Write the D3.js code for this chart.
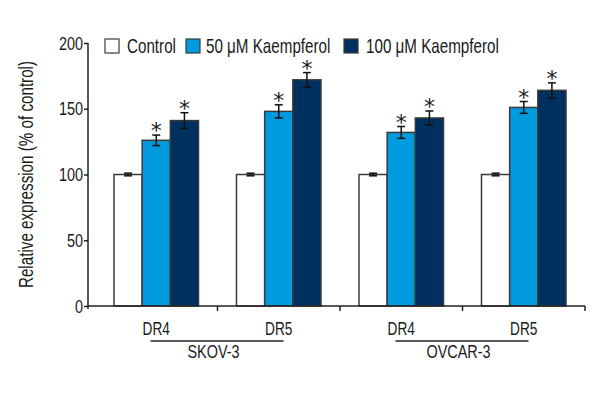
<!DOCTYPE html>
<html>
<head>
<meta charset="utf-8">
<script src="https://cdn.jsdelivr.net/npm/d3@7"></script>
<style>
  body { margin: 0; background: #fff; }
  svg text { font-family: "Liberation Sans", Arial, sans-serif; fill: #1a1a1a; }
</style>
</head>
<body>
<div id="chart"></div>
<script>
// data
var groups = ["SKOV-3 DR4", "SKOV-3 DR5", "OVCAR-3 DR4", "OVCAR-3 DR5"];
var groupLabels = ["DR4", "DR5", "DR4", "DR5"];
var cellLines = ["SKOV-3", "OVCAR-3"];
var series = ["Control", "50 \u03bcM Kaempferol", "100 \u03bcM Kaempferol"];
var controlVals = [100, 100, 100, 100];
var k50Vals = [126, 148, 132, 151];
var k100Vals = [141, 172, 143, 164];
var controlErr = [1, 1, 1, 1];
var k50Err = [4, 5, 4.5, 4.5];
var k100Err = [6, 5.5, 5.3, 5.7];
var significant = [false, true, true];
var yTicks = [0, 50, 100, 150, 200];

var colors = ["#ffffff", "#009bde", "#003060"];
var squeeze = 0.76; // condensed look of the original font

var width = 600, height = 400;

var svg = d3.select("#chart").append("svg")
	.attr("width", width)
	.attr("height", height);

// narrow text: translate, optional rotate, then squeeze along the text
function narrowText(parent, x, y, str, size, anchor, rot) {
	var t = "translate(" + x + "," + y + ")";
	if (rot) t += " rotate(" + rot + ")";
	t += " scale(" + squeeze + ",1)";
	return parent.append("text")
		.attr("transform", t)
		.attr("text-anchor", anchor || "start")
		.style("font-size", size + "px")
		.text(str);
}

var x0 = d3.scaleBand()
	.domain(groups)
	.range([95, 585])
	.padding(0);

var x1 = d3.scaleBand()
	.domain(series)
	.range([0, x0.bandwidth() * 0.69]);

var y = d3.scaleLinear()
	.domain([0, 200])
	.range([306, 43]);

var axisLeftX = 88;

// table built from the arrays
var table = groups.map(function(g, i) {
	return {
		group: g,
		bars: [
			{ s: series[0], v: controlVals[i], e: controlErr[i], c: colors[0], sig: significant[0] },
			{ s: series[1], v: k50Vals[i], e: k50Err[i], c: colors[1], sig: significant[1] },
			{ s: series[2], v: k100Vals[i], e: k100Err[i], c: colors[2], sig: significant[2] }
		]
	};
});

var offset = (x0.bandwidth() - x1.range()[1]) / 2;

var g = svg.selectAll(".grp")
	.data(table)
	.enter()
	.append("g")
	.attr("class", "grp")
	.attr("transform", function(d) { return "translate(" + (x0(d.group) + offset) + ",0)"; });

g.selectAll("rect")
	.data(function(d) { return d.bars; })
	.enter()
	.append("rect")
	.attr("x", function(d) { return x1(d.s); })
	.attr("y", function(d) { return y(d.v); })
	.attr("width", x1.bandwidth())
	.attr("height", function(d) { return y(0) - y(d.v); })
	.attr("fill", function(d) { return d.c; })
	.attr("stroke", "#3a3a3a")
	.attr("stroke-width", 1.5);

// error bars
var eb = g.selectAll(".err")
	.data(function(d) { return d.bars; })
	.enter()
	.append("g")
	.attr("class", "err")
	.attr("transform", function(d) { return "translate(" + (x1(d.s) + x1.bandwidth() / 2) + ",0)"; });

eb.append("line")
	.attr("y1", function(d) { return y(d.v + d.e); })
	.attr("y2", function(d) { return y(d.v - d.e); })
	.attr("stroke", "#111")
	.attr("stroke-width", 1.5);

eb.append("line")
	.attr("x1", -4).attr("x2", 4)
	.attr("y1", function(d) { return y(d.v + d.e); })
	.attr("y2", function(d) { return y(d.v + d.e); })
	.attr("stroke", "#111")
	.attr("stroke-width", 1.5);

eb.append("line")
	.attr("x1", -4).attr("x2", 4)
	.attr("y1", function(d) { return y(d.v - d.e); })
	.attr("y2", function(d) { return y(d.v - d.e); })
	.attr("stroke", "#111")
	.attr("stroke-width", 1.5);

eb.filter(function(d) { return d.sig; })
	.append("text")
	.attr("text-anchor", "middle")
	.attr("y", function(d) { return y(d.v + d.e) + 3; })
	.style("font-size", "22px")
	.style("font-family", "DejaVu Sans, sans-serif")
	.text("*");

// y axis
var yAxis = d3.axisLeft(y)
	.tickValues(yTicks)
	.tickSize(4)
	.tickPadding(0);

var ya = svg.append("g")
	.attr("class", "y-axis")
	.attr("transform", "translate(" + axisLeftX + ",0)")
	.call(yAxis);
ya.select(".domain").remove();
ya.append("line")
	.attr("y1", y(200)).attr("y2", y(0) + 3)
	.attr("stroke", "#222").attr("stroke-width", 1.5);
ya.selectAll(".tick line").attr("stroke", "#222").attr("stroke-width", 1.5);
ya.selectAll(".tick text")
	.attr("x", -5 / squeeze)
	.attr("transform", "scale(" + squeeze + ",1)")
	.style("font-size", "19px")
	.attr("fill", "#1a1a1a");

// x axis: baseline with ticks at group boundaries
var bounds = groups.map(function(d) { return x0(d); }).concat([x0.range()[1]]);
svg.append("line")
	.attr("x1", axisLeftX).attr("x2", x0.range()[1])
	.attr("y1", y(0)).attr("y2", y(0))
	.attr("stroke", "#222").attr("stroke-width", 1.5);
svg.selectAll(".xtick")
	.data(bounds.slice(1))
	.enter()
	.append("line")
	.attr("class", "xtick")
	.attr("x1", function(d) { return d; }).attr("x2", function(d) { return d; })
	.attr("y1", y(0)).attr("y2", y(0) + 5)
	.attr("stroke", "#222").attr("stroke-width", 1.5);

// group labels
groups.forEach(function(d, i) {
	narrowText(svg, x0(d) + x0.bandwidth() / 2, 335, groupLabels[i], 18, "middle");
});

// cell line labels with underline
cellLines.forEach(function(c, i) {
	var cx = x0(groups[i * 2 + 1]);
	svg.append("line")
		.attr("x1", cx - 67).attr("x2", cx + 66)
		.attr("y1", 341).attr("y2", 341)
		.attr("stroke", "#222").attr("stroke-width", 1.5);
	narrowText(svg, cx - 4, 358, c, 19, "middle");
});

// y title
narrowText(svg, 33, y(100), "Relative expression (% of control)", 20, "middle", -90);

// legend
var legendX = [105, 186, 344];
var legendTextX = [127, 206, 366];
series.forEach(function(s, i) {
	svg.append("rect")
		.attr("x", legendX[i]).attr("y", 39)
		.attr("width", 14).attr("height", 14)
		.attr("fill", colors[i])
		.attr("stroke", "#3a3a3a")
		.attr("stroke-width", 1.2);
	narrowText(svg, legendTextX[i], 53, s, 20, "start");
});
</script>
</body>
</html>
